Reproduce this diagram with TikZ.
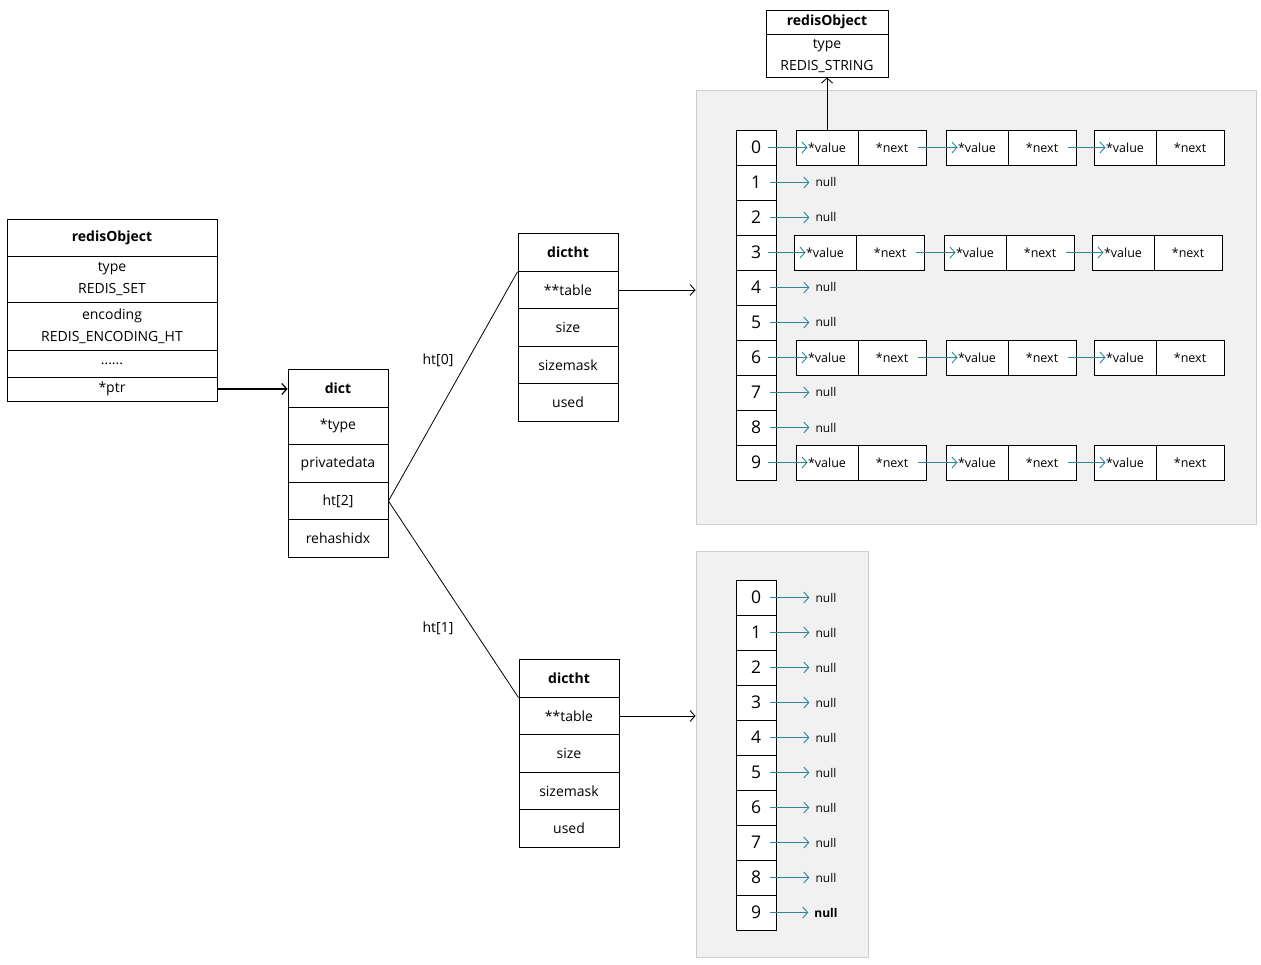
\documentclass[tikz,border=0pt]{standalone}
\usepackage{fontspec}
\setmainfont{Open Sans}
\usetikzlibrary{arrows.meta,positioning}
\definecolor{linkteal}{RGB}{49,133,155}
\definecolor{panelgray}{RGB}{241,241,241}
\definecolor{panelline}{RGB}{205,205,205}
\tikzstyle{field}=[draw, rectangle, inner sep=0pt, line width=0.9pt, align=center, font=\fontsize{14}{22}\selectfont]
\tikzstyle{slot}=[draw, fill=white, rectangle, minimum width=40, minimum height=35, inner sep=0pt, line width=0.9pt, font=\fontsize{17.5}{18}\selectfont]
\tikzstyle{cell}=[draw, fill=white, rectangle, minimum height=35, inner sep=0pt, line width=0.9pt, font=\fontsize{12.5}{13}\selectfont]
\tikzstyle{nulltext}=[inner sep=2pt, font=\fontsize{12}{13}\selectfont]
\tikzstyle{panel}=[draw=panelline, fill=panelgray, rectangle, line width=0.8pt, inner sep=0pt]
\tikzstyle{ptrArrow}=[line width=1.2pt, -{Straight Barb[length=5pt,width=11pt]}]
\tikzstyle{chainArrow}=[linkteal, line width=0.9pt, -{Straight Barb[length=5pt,width=11pt]}]

\begin{document}
\begin{tikzpicture}[x=1pt, y=-1pt]
    \useasboundingbox (0,0) rectangle (1261,965);

    % panels
    \node[panel, minimum width=560, minimum height=434] (panelA) at (976, 307) {};
    \node[panel, minimum width=172, minimum height=406] (panelB) at (782, 754) {};

    % redisObject (set)
    \node[field, minimum width=210, minimum height=37] (ro-title) at (112, 237.5) {\bfseries redisObject};
    \node[field, minimum width=210, minimum height=46] (ro-type) at (112, 279) {type\\REDIS\_SET};
    \node[field, minimum width=210, minimum height=48] (ro-enc) at (112, 326) {encoding\\REDIS\_ENCODING\_HT};
    \node[field, minimum width=210, minimum height=27] (ro-dots) at (112, 363.5) {......};
    \node[field, minimum width=210, minimum height=24] (ro-ptr) at (112, 389) {*ptr};

    % dict
    \node[field, minimum width=100, minimum height=37.5] (d-title) at (338, 388.5) {\bfseries dict};
    \node[field, minimum width=100, minimum height=37.5] (d-type) at (338, 426) {*type};
    \node[field, minimum width=100, minimum height=37.5] (d-priv) at (338, 463.5) {privatedata};
    \node[field, minimum width=100, minimum height=37.5] (d-ht) at (338, 501) {ht[2]};
    \node[field, minimum width=100, minimum height=37.5] (d-rehash) at (338, 538.5) {rehashidx};

    % dictht ht[0]
    \node[field, minimum width=100, minimum height=37.5] (h0-title) at (568, 252.5) {\bfseries dictht};
    \node[field, minimum width=100, minimum height=37.5] (h0-table) at (568, 290) {**table};
    \node[field, minimum width=100, minimum height=37.5] (h0-size) at (568, 327.5) {size};
    \node[field, minimum width=100, minimum height=37.5] (h0-mask) at (568, 365) {sizemask};
    \node[field, minimum width=100, minimum height=37.5] (h0-used) at (568, 402.5) {used};

    % dictht ht[1]
    \node[field, minimum width=100, minimum height=37.5] (h1-title) at (569, 678.5) {\bfseries dictht};
    \node[field, minimum width=100, minimum height=37.5] (h1-table) at (569, 716) {**table};
    \node[field, minimum width=100, minimum height=37.5] (h1-size) at (569, 753.5) {size};
    \node[field, minimum width=100, minimum height=37.5] (h1-mask) at (569, 791) {sizemask};
    \node[field, minimum width=100, minimum height=37.5] (h1-used) at (569, 828.5) {used};

    \node[inner sep=2pt, font=\fontsize{14}{15}\selectfont] (lbl-ht0) at (438, 360) {ht[0]};
    \node[inner sep=2pt, font=\fontsize{14}{15}\selectfont] (lbl-ht1) at (438, 628) {ht[1]};

    % redisObject (string)
    \node[field, fill=white, minimum width=122, minimum height=24] (rs-title) at (827, 22) {\bfseries redisObject};
    \node[field, fill=white, minimum width=122, minimum height=43] (rs-type) at (827, 55.5) {type\\REDIS\_STRING};

    % bucket arrays
    \foreach \i in {0,...,9} {
        \node[slot] (a\i) at (756, 147.5+35*\i) {\i};
        \node[slot] (b\i) at (756, 597.5+35*\i) {\i};
    }

    % entries
    \foreach \r/\dx in {0/0, 3/-2, 6/0, 9/0} {
        \foreach \k/\x in {1/796, 2/946, 3/1094} {
            \node[cell, minimum width=62] (v\r-\k) at (\x+31+\dx, 147.5+35*\r) {*value};
            \node[cell, minimum width=68] (n\r-\k) at (\x+96+\dx, 147.5+35*\r) {*next};
        }
        \draw[chainArrow] ([xshift=12]a\r.center) -- ([xshift=12]v\r-1.west);
        \draw[chainArrow] ([xshift=-8]n\r-1.east) -- ([xshift=12]v\r-2.west);
        \draw[chainArrow] ([xshift=-8]n\r-2.east) -- ([xshift=12]v\r-3.west);
    }

    % null pointers
    \foreach \r in {1,2,4,5,7,8} {
        \node[nulltext] (na\r) at (826, 147.5+35*\r) {null};
        \draw[chainArrow] ([xshift=14]a\r.center) -- ([xshift=-4]na\r.west);
    }
    \foreach \r in {0,...,8} {
        \node[nulltext] (nb\r) at (826, 597.5+35*\r) {null};
        \draw[chainArrow] ([xshift=14]b\r.center) -- ([xshift=-4]nb\r.west);
    }
    \node[nulltext, font=\fontsize{12}{13}\selectfont\bfseries] (nb9) at (826, 912.5) {null};
    \draw[chainArrow] ([xshift=14]b9.center) -- ([xshift=-4]nb9.west);

    % pointers
    \draw[ptrArrow] (ro-ptr.east) -- (d-title.west |- ro-ptr.east);
    \draw[line width=0.8pt] (d-ht.east) -- (h0-title.south west);
    \draw[line width=0.8pt] (d-ht.east) -- (h1-title.south west);
    \draw[ptrArrow, line width=0.9pt] (h0-table.east) -- (h0-table.east -| panelA.west);
    \draw[ptrArrow, line width=0.9pt] (h1-table.east) -- (h1-table.east -| panelB.west);
    \draw[ptrArrow, line width=0.9pt] (v0-1.north) -- (rs-type.south);
\end{tikzpicture}
\end{document}
